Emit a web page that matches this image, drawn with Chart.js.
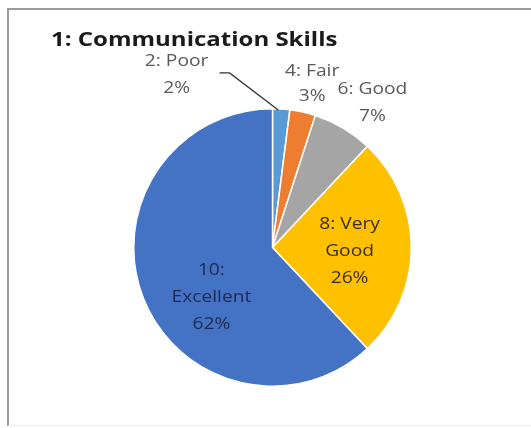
<!DOCTYPE html>
<html>
<head>
<meta charset="utf-8">
<script src="https://cdn.jsdelivr.net/npm/chart.js@4/dist/chart.umd.min.js"></script>
<style>
  html, body { margin: 0; padding: 0; background: #fff; }
  #wrap { position: relative; width: 531px; height: 428px; overflow: hidden; }
  #frame {
    position: absolute; left: 7px; top: 8px; width: 600px; height: 415px;
    border-left: 2px solid #9a9a9a; border-top: 2px solid #9a9a9a;
    border-bottom: 1px solid #ececec;
  }
  canvas { position: absolute; left: 0; top: 0; }
</style>
</head>
<body>
<div id="wrap">
  <div id="frame"></div>
  <canvas id="chart" width="531" height="428"></canvas>
</div>
<script>
// ข้อมูล
const TITLE = '1: Communication Skills';
const CATEGORIES = ['2: Poor', '4: Fair', '6: Good', '8: Very Good', '10: Excellent'];
const LABEL_LINES = [['2: Poor'], ['4: Fair'], ['6: Good'], ['8: Very', 'Good'], ['10:', 'Excellent']];
const PERCENTS = [2, 3, 7, 26, 62];

// สี
const SLICE_COLORS = ['#5b9bd5', '#ed7d31', '#a5a5a5', '#ffc000', '#4472c4'];
const LABEL_COLORS = ['#595959', '#595959', '#595959', '#3a2f17', '#1f2a52'];

// ตำแหน่ง label (เท่าของรัศมี, เลื่อนมุมเป็นองศา)
const LABEL_RADIUS = [1.426, 1.216, 1.268, 0.556, 0.57];
const LABEL_ANGLE_SHIFT = [-32.6, 1, 4, 2.6, -17.8];
const LABEL_LINE_HEIGHT = [27, 25, 27, 27, 27];
const TEXT_STRETCH = 1.2;

/**
 * วาดข้อความแบบยืดแนวนอน
 */
function stretchedText(ctx, text, x, y, align) {
  ctx.save();
  ctx.translate(x, y);
  ctx.scale(TEXT_STRETCH, 1);
  ctx.textAlign = align;
  ctx.fillText(text, 0, 0);
  ctx.restore();
}

const labelPlugin = {
  id: 'sliceLabels',
  afterDatasetsDraw(chart) {
    const ctx = chart.ctx;
    const meta = chart.getDatasetMeta(0);

    // title
    ctx.save();
    ctx.fillStyle = '#1a1a1a';
    ctx.font = 'bold 20px "Open Sans"';
    ctx.textBaseline = 'alphabetic';
    stretchedText(ctx, TITLE, 51, 46, 'left');
    ctx.restore();

    meta.data.forEach((arc, i) => {
      const p = arc.getProps(['x', 'y', 'startAngle', 'endAngle', 'outerRadius'], true);
      const mid = (p.startAngle + p.endAngle) / 2;
      const ang = mid + LABEL_ANGLE_SHIFT[i] * Math.PI / 180;
      const r = p.outerRadius * LABEL_RADIUS[i];
      const cx = p.x + Math.cos(ang) * r;
      const cy = p.y + Math.sin(ang) * r;
      const lines = LABEL_LINES[i].concat([PERCENTS[i] + '%']);
      const lh = LABEL_LINE_HEIGHT[i];
      const top = cy - (lines.length - 1) * lh / 2;

      ctx.save();
      ctx.fillStyle = LABEL_COLORS[i];
      ctx.font = '16px "Open Sans"';
      ctx.textBaseline = 'middle';
      lines.forEach((ln, k) => stretchedText(ctx, ln, cx, top + k * lh, 'center'));
      ctx.restore();

      // leader line ของชิ้นเล็ก (2: Poor)
      if (i === 0) {
        const ex = p.x + Math.cos(mid) * p.outerRadius;
        const ey = p.y + Math.sin(mid) * p.outerRadius;
        ctx.save();
        ctx.strokeStyle = '#303030';
        ctx.lineWidth = 1.2;
        ctx.beginPath();
        ctx.moveTo(cx + 43, top + 12);
        ctx.lineTo(cx + 53, top + 12);
        ctx.lineTo(ex - 3, ey + 1);
        ctx.stroke();
        ctx.restore();
      }
    });
  }
};

new Chart(document.getElementById('chart'), {
  type: 'pie',
  data: {
    labels: CATEGORIES,
    datasets: [{
      data: PERCENTS,
      backgroundColor: SLICE_COLORS,
      borderColor: '#ffffff',
      borderWidth: 1.5
    }]
  },
  options: {
    responsive: false,
    animation: false,
    layout: { padding: { top: 108, bottom: 41, left: 133, right: 119 } },
    plugins: {
      legend: { display: false },
      tooltip: { enabled: false },
      title: { display: false }
    }
  },
  plugins: [labelPlugin]
});
</script>
</body>
</html>
